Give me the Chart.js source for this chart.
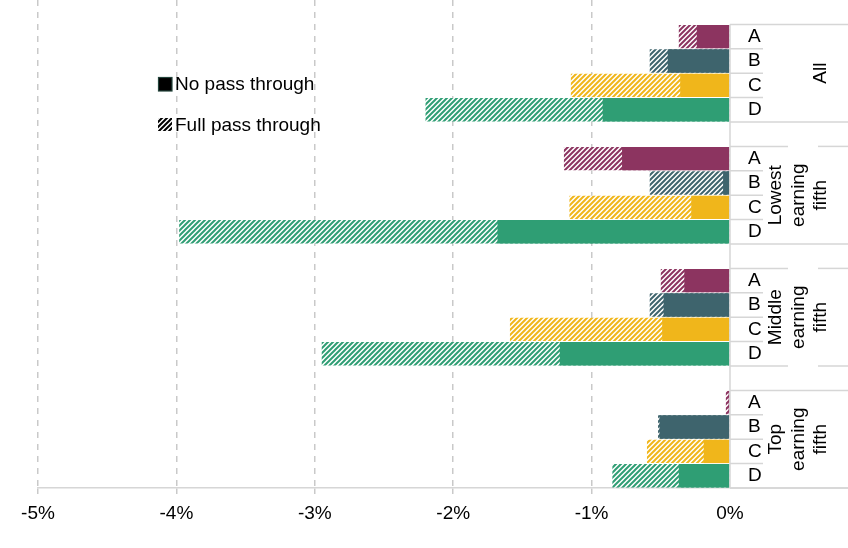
<!DOCTYPE html>
<html><head><meta charset="utf-8">
<script src="https://cdn.jsdelivr.net/npm/chart.js@4/dist/chart.umd.min.js"></script>
<style>html,body{margin:0;padding:0;background:#fff}#wrap{width:848px;height:548px}</style>
</head><body><div id="wrap"><canvas id="c" width="848" height="548"></canvas></div>
<script>
// ---- data ----
const rowLabels = ['', 'A','B','C','D', '', 'A','B','C','D', '', 'A','B','C','D', '', 'A','B','C','D'];
const groupNames = [['All'], ['Lowest','earning','fifth'], ['Middle','earning','fifth'], ['Top','earning','fifth']];
const seriesNames = ['No pass through', 'Full pass through'];
const noPassThrough   = [null, -0.24, -0.45, -0.36, -0.92, null, -0.78, -0.05, -0.28, -1.68, null, -0.33, -0.48, -0.49, -1.23, null, -0.01, -0.51, -0.19, -0.37];
const fullPassThrough = [null, -0.37, -0.58, -1.15, -2.20, null, -1.20, -0.58, -1.16, -3.98, null, -0.50, -0.58, -1.59, -2.95, null, -0.03, -0.52, -0.60, -0.85];
const xTickValues = [-5, -4, -3, -2, -1, 0];

// ---- styles ----
const FONT = "'Liberation Sans', Arial, sans-serif";
const letterColors = { A: '#8c3460', B: '#3e646d', C: '#f0b61b', D: '#2f9e74' };
const GRID = '#c9c9c9';
const LINE = '#d6d6d6';
// which group boundary lines have a gap behind the labels: [top, bottom]
const lineGaps = [[false, false], [true, false], [true, true], [false, false]];

function hatch(color, bg) {
  const p = 5;
  const c = document.createElement('canvas');
  c.width = p; c.height = p;
  const g = c.getContext('2d');
  g.fillStyle = bg; g.fillRect(0, 0, p, p);
  g.strokeStyle = color; g.lineWidth = 2; g.lineCap = 'square';
  g.beginPath();
  g.moveTo(-1, p + 1); g.lineTo(p + 1, -1);
  g.moveTo(-1, 1); g.lineTo(1, -1);
  g.moveTo(p - 1, p + 1); g.lineTo(p + 1, p - 1);
  g.stroke();
  return g.createPattern(c, 'repeat');
}

const solidColors = rowLabels.map(l => letterColors[l] || 'rgba(0,0,0,0)');
const hatchColors = rowLabels.map(l => letterColors[l] ? hatch(letterColors[l], '#ffffff') : 'rgba(0,0,0,0)');

const extras = {
  id: 'extras',
  afterDraw(chart) {
    const ctx = chart.ctx;
    const y = chart.scales.y;
    const area = chart.chartArea;
    const h = y.getPixelForValue(1) - y.getPixelForValue(0);
    const R = area.right, W = chart.width;
    ctx.save();
    ctx.strokeStyle = LINE;
    ctx.lineWidth = 1.5;
    const line = (x1, y1, x2, y2) => { ctx.beginPath(); ctx.moveTo(x1, y1); ctx.lineTo(x2, y2); ctx.stroke(); };
    const hline = (yy, gap) => {
      if (gap) { line(R, yy, 788, yy); line(818, yy, W, yy); }
      else line(R, yy, W, yy);
    };
    line(R, area.bottom, W, area.bottom);
    const firstTop = y.getPixelForValue(1) - h / 2;
    line(R, firstTop, R, area.bottom);
    for (let g = 0; g < groupNames.length; g++) {
      const s = 1 + g * 5;
      const top = y.getPixelForValue(s) - h / 2;
      const bot = y.getPixelForValue(s + 3) + h / 2;
      hline(top, lineGaps[g][0]);
      hline(bot, lineGaps[g][1]);
      for (let k = 1; k < 4; k++) {
        const yy = y.getPixelForValue(s + k) - h / 2;
        line(R, yy, R + 33, yy);
      }
      const cy = (top + bot) / 2;
      const lines = groupNames[g];
      ctx.fillStyle = '#000';
      ctx.font = '19px ' + FONT;
      ctx.textAlign = 'center';
      ctx.textBaseline = 'middle';
      lines.forEach((t, i) => {
        const x = 821 - (lines.length - 1 - i) * 22.5;
        ctx.save();
        ctx.translate(x, cy);
        ctx.rotate(-Math.PI / 2);
        ctx.fillText(t, 0, 0);
        ctx.restore();
      });
    }
    // legend
    ctx.fillStyle = '#000';
    ctx.fillRect(158.5, 77.5, 13.5, 13.5);
    ctx.strokeStyle = '#23443b';
    ctx.lineWidth = 1.2;
    ctx.strokeRect(158.5, 77.5, 13.5, 13.5);
    ctx.fillStyle = hatch('#000', '#fff');
    ctx.fillRect(158, 118, 14, 13);
    ctx.fillStyle = '#000';
    ctx.font = '19px ' + FONT;
    ctx.textAlign = 'left';
    ctx.textBaseline = 'middle';
    ctx.fillText(seriesNames[0], 175, 85);
    ctx.fillText(seriesNames[1], 175, 126);
    ctx.restore();
  }
};

Chart.defaults.font.family = FONT;
new Chart(document.getElementById('c'), {
  type: 'bar',
  data: {
    labels: rowLabels,
    datasets: [
      { label: seriesNames[0], data: noPassThrough, backgroundColor: solidColors, grouped: false, barPercentage: 0.96, categoryPercentage: 1, borderWidth: 0 },
      { label: seriesNames[1], data: fullPassThrough, backgroundColor: hatchColors, grouped: false, barPercentage: 0.96, categoryPercentage: 1, borderWidth: 0 }
    ]
  },
  options: {
    indexAxis: 'y',
    responsive: false,
    devicePixelRatio: 1,
    animation: false,
    layout: { padding: { left: 38, right: 0, top: 0, bottom: 0 } },
    plugins: { legend: { display: false }, tooltip: { enabled: false } },
    scales: {
      x: {
        type: 'linear', min: -5, max: 0,
        afterBuildTicks: s => { s.ticks = xTickValues.map(v => ({ value: v })); },
        afterFit: s => { s.height = 60; },
        ticks: { callback: v => v + '%', font: { size: 19 }, color: '#000', padding: 8 },
        grid: { color: c => (c.tick && c.tick.value === 0) ? 'rgba(0,0,0,0)' : GRID, lineWidth: 1.5, tickLength: 6 },
        border: { display: true, color: LINE, width: 1.5, dash: [6, 6] }
      },
      y: {
        position: 'right',
        afterFit: s => { s.width = 118; s.paddingTop = 0; s.paddingBottom = 0; },
        ticks: { font: { size: 19 }, color: '#000', padding: 18, autoSkip: false },
        grid: { display: false, drawTicks: false },
        border: { display: false }
      }
    }
  },
  plugins: [extras]
});
</script>
</body></html>
